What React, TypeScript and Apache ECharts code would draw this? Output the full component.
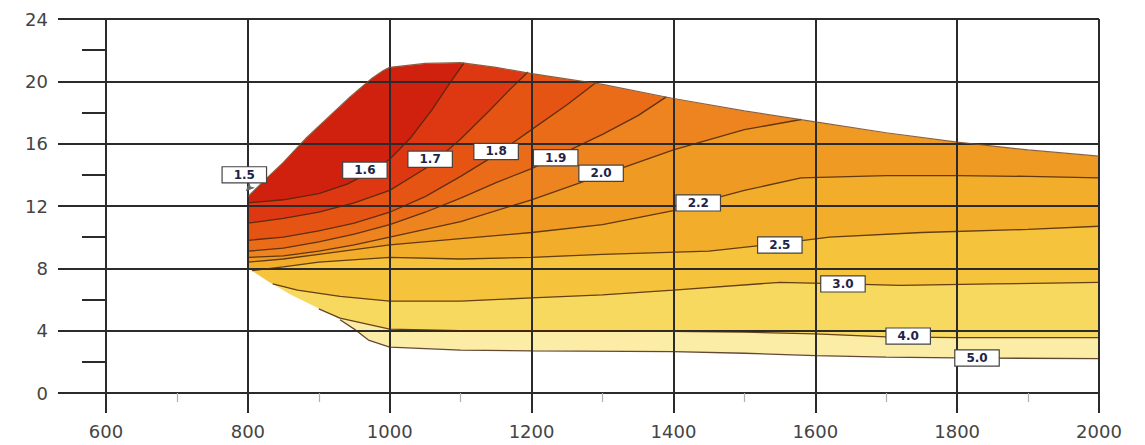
import React, { useEffect, useRef } from "react";
import * as echarts from "echarts";

// Envelope of the map
const UPPER_BOUNDARY: number[][] = [
  [800, 12.6], [820, 13.5], [850, 14.8], [883, 16.4], [944, 19.0], [975, 20.2], [991, 20.7],
  [1000, 20.9], [1050, 21.15], [1100, 21.2], [1150, 20.9], [1200, 20.5], [1300, 19.8],
  [1400, 18.9], [1500, 18.1], [1600, 17.4], [1700, 16.7], [1800, 16.1], [1900, 15.6], [2000, 15.2],
];
const LOWER_LEFT_EDGE: number[][] = [
  [800, 8.0], [830, 7.1], [860, 6.3], [900, 5.4], [930, 4.7],
];

// Contour lines
const C16: number[][] = [[800, 12.2], [850, 12.4], [900, 12.8], [940, 13.4], [970, 14.1], [1000, 15.0], [1030, 16.4], [1060, 18.2], [1085, 19.9], [1105, 21.2]];
const C17: number[][] = [[800, 10.9], [850, 11.2], [900, 11.6], [950, 12.2], [1000, 13.0], [1057, 14.6], [1100, 16.3], [1140, 18.1], [1170, 19.5], [1195, 20.6]];
const C18: number[][] = [[800, 9.8], [850, 10.0], [900, 10.4], [950, 10.9], [1000, 11.6], [1050, 12.6], [1100, 13.9], [1150, 15.3], [1200, 16.9], [1250, 18.5], [1290, 19.9]];
const C19: number[][] = [[800, 9.1], [850, 9.3], [900, 9.7], [950, 10.2], [1000, 10.8], [1050, 11.6], [1100, 12.5], [1150, 13.5], [1200, 14.4], [1250, 15.5], [1300, 16.6], [1350, 17.8], [1390, 19.0]];
const C20: number[][] = [[800, 8.7], [850, 8.8], [900, 9.1], [950, 9.5], [1000, 10.0], [1100, 11.0], [1200, 12.4], [1300, 14.0], [1400, 15.6], [1500, 16.9], [1580, 17.55]];
const C22: number[][] = [[800, 8.4], [850, 8.6], [900, 8.9], [1000, 9.5], [1100, 9.9], [1200, 10.3], [1300, 10.8], [1400, 11.7], [1450, 12.4], [1500, 13.0], [1580, 13.8], [1700, 13.95], [1800, 13.95], [1900, 13.9], [2000, 13.8]];
const C25: number[][] = [[806, 7.85], [850, 8.1], [900, 8.4], [1000, 8.7], [1100, 8.6], [1200, 8.7], [1300, 8.9], [1450, 9.1], [1550, 9.6], [1620, 10.0], [1750, 10.3], [1900, 10.5], [2000, 10.7]];
const C30: number[][] = [[835, 7.0], [870, 6.6], [930, 6.2], [1000, 5.9], [1100, 5.9], [1200, 6.1], [1300, 6.3], [1400, 6.6], [1550, 7.1], [1640, 7.0], [1720, 6.9], [1850, 7.0], [2000, 7.1]];
const C40: number[][] = [[900, 5.4], [930, 4.8], [1000, 4.1], [1100, 4.0], [1300, 4.0], [1500, 3.9], [1600, 3.8], [1700, 3.6], [1800, 3.55], [1900, 3.55], [2000, 3.55]];
const C50: number[][] = [[930, 4.7], [950, 4.1], [970, 3.4], [1000, 2.95], [1100, 2.75], [1200, 2.7], [1400, 2.65], [1500, 2.55], [1600, 2.4], [1700, 2.3], [1800, 2.25], [2000, 2.2]];

// painted from the highest value down; colour = band on the low-value side
const CONTOURS: number[][][] = [C50, C40, C30, C25, C22, C20, C19, C18, C17, C16];
const BAND_COLORS: string[] = [
  "#fbeca6", "#f8d960", "#f5c43c", "#f2ae2a", "#ef9a22",
  "#ed8420", "#ea6c18", "#e65414", "#de3812", "#d0200e",
];

// Contour labels [x, y, text]
const LABELS: (number | string)[][] = [
  [795, 14.0, "1.5"], [965, 14.3, "1.6"], [1057, 15.0, "1.7"], [1150, 15.5, "1.8"],
  [1234, 15.1, "1.9"], [1298, 14.1, "2.0"], [1435, 12.2, "2.2"], [1550, 9.5, "2.5"],
  [1639, 7.0, "3.0"], [1731, 3.65, "4.0"], [1828, 2.25, "5.0"],
];
const MIN_POINT: number[][] = [[797, 12.95]];

const X_MIN = 600, X_MAX = 2000, Y_MIN = 0, Y_MAX = 24;

function regionPoly(c: number[][]): number[][] {
  const first = c[0];
  const last = c[c.length - 1];
  return [...c, [last[0], Y_MAX], [X_MIN, Y_MAX], [X_MIN, first[1]]];
}

const FILL_POLYS: number[][][] = CONTOURS.map(regionPoly);
const MASK_POLY: number[][] = [
  [X_MIN, Y_MAX], [X_MAX, Y_MAX],
  ...UPPER_BOUNDARY.slice().reverse(),
  ...LOWER_LEFT_EDGE,
  ...C50.slice(1),
  [X_MAX, Y_MIN], [X_MIN, Y_MIN],
];
const ALL_POLYS = [...FILL_POLYS, MASK_POLY];
const ALL_COLORS = [...BAND_COLORS, "#ffffff"];

const GRID_COLOR = "#2b2b2b";

export default function App() {
  const ref = useRef<HTMLDivElement>(null);
  useEffect(() => {
    document.body.style.margin = "0";
    if (!ref.current) return;
    const chart = echarts.init(ref.current, undefined, { renderer: "svg" });
    const lineSeries = [...CONTOURS, UPPER_BOUNDARY].map((c, i) => ({
      type: "line",
      data: c,
      showSymbol: false,
      symbol: "none",
      z: 4,
      silent: true,
      lineStyle: {
        color: i === CONTOURS.length ? "#7a4a28" : "#4a2810",
        width: i === CONTOURS.length ? 1.2 : 1.3,
        opacity: 0.85,
      },
    }));
    chart.setOption({
      animation: false,
      backgroundColor: "#ffffff",
      grid: { left: 106, right: 46, top: 19, bottom: 52 },
      xAxis: {
        type: "value",
        min: X_MIN,
        max: X_MAX,
        interval: 200,
        z: 3,
        axisLine: { show: true, lineStyle: { color: GRID_COLOR, width: 2 } },
        axisTick: { show: true, length: 20, lineStyle: { color: GRID_COLOR, width: 2 } },
        minorTick: { show: true, splitNumber: 2, length: 9, lineStyle: { color: "#b0b0b0", width: 1.2 } },
        axisLabel: {
          margin: 29,
          color: "#444",
          fontSize: 18,
          fontFamily: "DejaVu Sans",
          formatter: (v: number) => String(v),
        },
        splitLine: { show: true, lineStyle: { color: GRID_COLOR, width: 2 } },
      },
      yAxis: {
        type: "value",
        min: Y_MIN,
        max: Y_MAX,
        interval: 4,
        z: 3,
        axisLine: { show: true, lineStyle: { color: GRID_COLOR, width: 2 } },
        axisTick: { show: true, length: 48, lineStyle: { color: GRID_COLOR, width: 2 } },
        minorTick: { show: true, splitNumber: 2, length: 24, lineStyle: { color: GRID_COLOR, width: 2 } },
        axisLabel: { margin: 58, color: "#444", fontSize: 18, fontFamily: "DejaVu Sans" },
        splitLine: { show: true, lineStyle: { color: GRID_COLOR, width: 2 } },
      },
      series: [
        {
          type: "custom",
          coordinateSystem: "cartesian2d",
          clip: true,
          silent: true,
          z: 2,
          data: ALL_POLYS.map((_, i) => [700, 10, i]),
          renderItem: (params: any, api: any) => {
            const idx = api.value(2);
            const pts = ALL_POLYS[idx].map((p) => api.coord(p));
            return {
              type: "polygon",
              shape: { points: pts },
              style: { fill: ALL_COLORS[idx], stroke: ALL_COLORS[idx], lineWidth: 0.6 },
            };
          },
        },
        ...lineSeries,
        {
          type: "scatter",
          data: MIN_POINT,
          symbol: "arrow",
          symbolSize: [6, 9],
          symbolRotate: 135,
          itemStyle: { color: "#666", opacity: 1 },
          z: 5,
          silent: true,
        },
        {
          type: "scatter",
          data: LABELS,
          symbol: "rect",
          symbolSize: 1,
          itemStyle: { color: "rgba(0,0,0,0)", opacity: 1 },
          z: 6,
          silent: true,
          label: {
            show: true,
            position: "inside",
            formatter: (p: any) => String(p.value[2]),
            backgroundColor: "#ffffff",
            borderColor: "#444",
            borderWidth: 1.2,
            padding: [2, 11, 1, 11],
            color: "#1e2448",
            fontWeight: "bold",
            fontSize: 12,
            fontFamily: "DejaVu Sans",
            opacity: 1,
          },
        },
      ],
    });
    return () => chart.dispose();
  }, []);
  return <div ref={ref} style={{ width: 1145, height: 445 }} />;
}
